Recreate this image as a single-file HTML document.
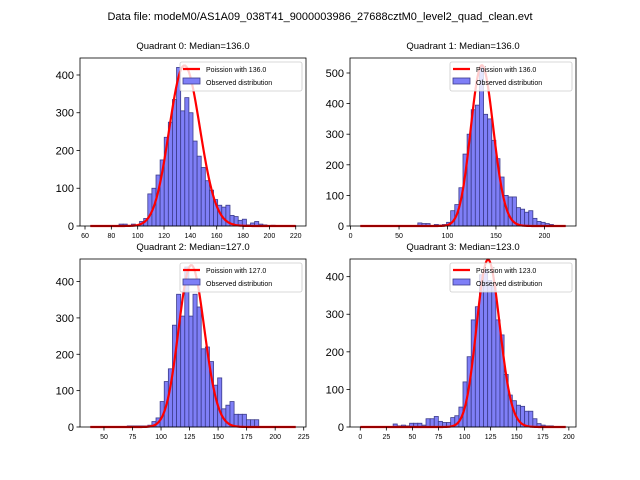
<!DOCTYPE html>
<html><head><meta charset="utf-8"><style>
body{margin:0;background:#fff;}
svg{display:block;font-family:"Liberation Sans","DejaVu Sans",sans-serif;}
</style></head><body>
<svg id="chart" width="640" height="480" viewBox="0 0 640 480">
<rect width="640" height="480" fill="#fff"/>
<text x="320" y="20" font-size="11" text-anchor="middle">Data file: modeM0/AS1A09_038T41_9000003986_27688cztM0_level2_quad_clean.evt</text>
</svg>
<script>
const q0Counts=[0,0,0,0,0,0,1,5,5,0,5,3,12,20,85,100,135,175,235,275,335,420,305,340,300,225,185,155,120,95,70,55,50,55,28,25,15,18,3,8,12,5,3,0,2,0,0,0,0,1];
const q1Counts=[0,0,0,0,0,0,0,0,0,0,0,0,0,0,10,8,8,0,5,3,5,12,50,70,125,235,300,380,395,520,365,350,280,220,160,100,95,95,60,55,45,50,25,15,12,8,5,2,0,0];
const q2Counts=[0,0,0,0,0,0,0,0,0,3,3,3,3,3,5,15,25,70,125,160,280,365,305,440,305,365,330,215,220,180,115,135,50,60,70,35,35,35,20,20,20,0,0,0,0,0,0,0,0,0];
const q3Counts=[0,0,0,0,0,0,0,0,8,3,5,3,10,10,10,5,22,22,28,15,12,12,25,30,53,120,187,285,320,405,420,390,375,285,245,140,85,70,58,55,42,42,22,9,5,3,3,0,0,0];
const medians=[136,136,127,123];
const curvePeaks=[425,525,445,445];
const binStarts=[64,10,38,0];
const binEnds=[220,222,218,197];
const yTicks=[[0,100,200,300,400],[0,100,200,300,400,500],[0,100,200,300,400],[0,100,200,300,400]];
const xTicks=[[60,80,100,120,140,160,180,200,220],[0,50,100,150,200],[50,75,100,125,150,175,200,225],[0,25,50,75,100,125,150,175,200]];
const yMaxes=[445,549,462,447];
const allCounts=[q0Counts,q1Counts,q2Counts,q3Counts];
const NS='http://www.w3.org/2000/svg';
const svg=document.getElementById('chart');
function mk(tag,attrs,parent){const e=document.createElementNS(NS,tag);for(const k in attrs)e.setAttribute(k,attrs[k]);(parent||svg).appendChild(e);return e;}
function lgamma(n){
  if(n<2)return 0;const x=n+1;return (x-0.5)*Math.log(x)-x+0.5*Math.log(2*Math.PI)+1/(12*x)-1/(360*x*x*x);}
const boxes=[{l:80,t:58,w:226,h:168},{l:350,t:58,w:226,h:168},{l:80,t:259,w:226,h:168},{l:350,t:259,w:226,h:168}];
for(let p=0;p<4;p++){
  const b=boxes[p],counts=allCounts[p];
  const g=mk('g',{});
  
  
  const lo=binStarts[p],hi=binEnds[p],span=hi-lo,xmin=lo-0.05*span,xmax=hi+0.05*span;
  const X=v=>b.l+(v-xmin)/(xmax-xmin)*b.w;
  const Y=v=>b.t+b.h-v/yMaxes[p]*b.h;
  const t=mk('text',{x:b.l+b.w/2,y:b.t-9,'font-size':'9.5','text-anchor':'middle'},g);
  t.textContent='Quadrant '+p+': Median='+medians[p].toFixed(1);
  
  
  const bw=span/counts.length;
  counts.forEach((c,i)=>{
    if(c<=0)return;
    const x0=X(lo+i*bw),x1=X(lo+(i+1)*bw);
    const r=mk('rect',{x:x0,y:Y(c),width:x1-x0,height:Y(0)-Y(c),fill:'#7f7ff7',stroke:'#3c3c8c','stroke-width':'0.8'},g);
    
    
  });
  const mu=medians[p];const k0=Math.floor(mu);
  const peakLog=k0*Math.log(mu)-mu-lgamma(k0);
  let d='';
  for(let k=Math.ceil(lo);k<=Math.floor(hi);k++){
    const v=curvePeaks[p]*Math.exp(k*Math.log(mu)-mu-lgamma(k)-peakLog);
    d+=(d?'L':'M')+X(k).toFixed(2)+','+Y(v).toFixed(2);
  }
  const cv=mk('path',{d:d,fill:'none',stroke:'#ff0000','stroke-width':'2.2'},g);
  
  
  const fr=mk('rect',{x:b.l,y:b.t,width:b.w,height:b.h,fill:'none',stroke:'#000','stroke-width':'0.8'},g);
  
  
  yTicks[p].forEach(v=>{
    mk('line',{x1:b.l-3.5,x2:b.l,y1:Y(v),y2:Y(v),stroke:'#000','stroke-width':'0.8'},g);
    const tl=mk('text',{x:b.l-6,y:Y(v)+4,'font-size':'11','text-anchor':'end'},g);
    tl.textContent=v;
    
    
  });
  xTicks[p].forEach(v=>{
    mk('line',{x1:X(v),x2:X(v),y1:b.t+b.h,y2:b.t+b.h+3.5,stroke:'#000','stroke-width':'0.8'},g);
    const tl=mk('text',{x:X(v),y:b.t+b.h+12,'font-size':'7','text-anchor':'middle'},g);
    tl.textContent=v;
    
    
  });
  const lg=mk('g',{},g);
  
  
  const lx=b.l+b.w-126,ly=b.t+4;
  mk('rect',{x:lx,y:ly,width:122,height:29,rx:2,fill:'#fff','fill-opacity':'0.8',stroke:'#ccc','stroke-width':'0.8'},lg);
  mk('line',{x1:lx+3,x2:lx+20,y1:ly+7,y2:ly+7,stroke:'#ff0000','stroke-width':'2.2'},lg);
  const l1=mk('text',{x:lx+26,y:ly+10,'font-size':'7'},lg);
  l1.textContent='Poission with '+medians[p].toFixed(1);
  
  
  mk('rect',{x:lx+3,y:ly+16,width:17,height:6,fill:'#7f7ff7',stroke:'#3c3c8c','stroke-width':'0.8'},lg);
  const l2=mk('text',{x:lx+26,y:ly+23,'font-size':'7'},lg);
  l2.textContent='Observed distribution';
  
  
}
</script>
</body></html>
